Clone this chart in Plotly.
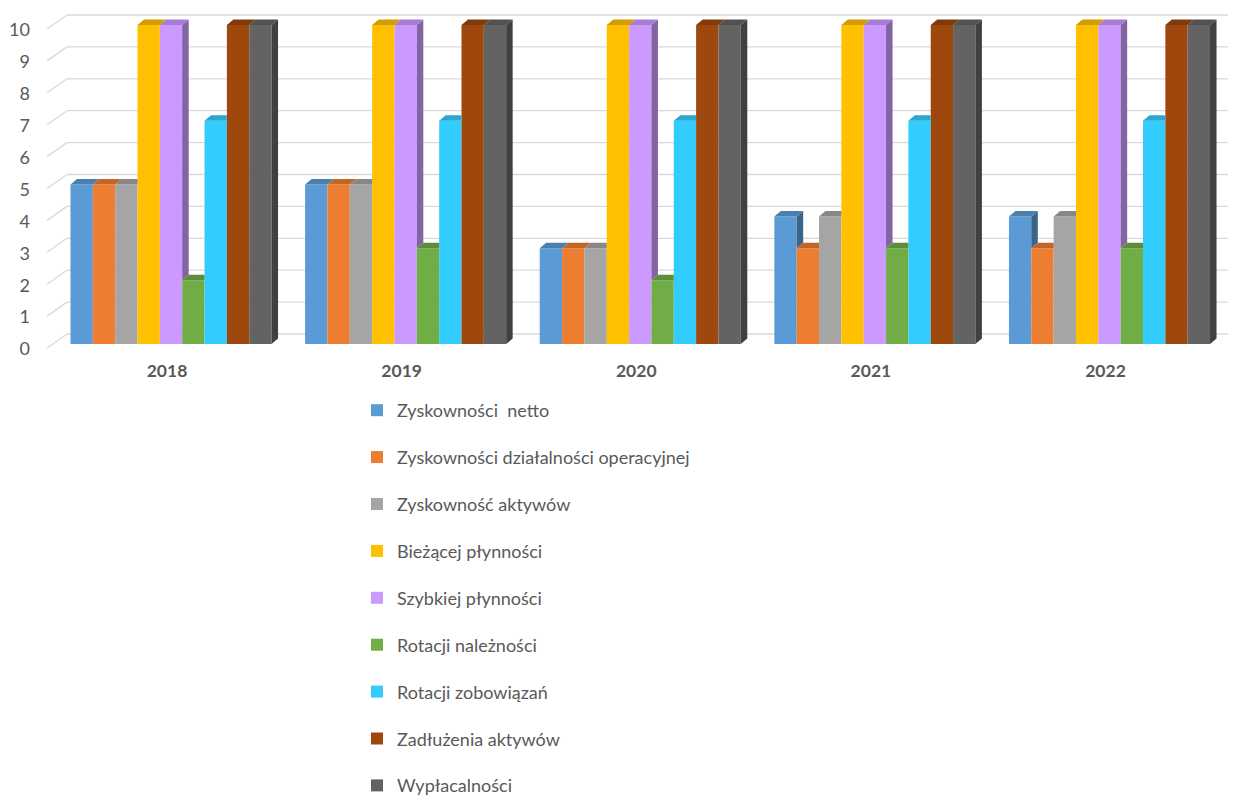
import plotly.graph_objects as go

# ---------------- data ----------------
years = ["2018", "2019", "2020", "2021", "2022"]
series_names = [
    "Zyskowności\u00a0 netto",
    "Zyskowności działalności operacyjnej",
    "Zyskowność aktywów",
    "Bieżącej płynności",
    "Szybkiej płynności",
    "Rotacji należności",
    "Rotacji zobowiązań",
    "Zadłużenia aktywów",
    "Wypłacalności",
]
zysk_netto = [5, 5, 3, 4, 4]
zysk_operacyjnej = [5, 5, 3, 3, 3]
zysk_aktywow = [5, 5, 3, 4, 4]
biezacej_plynnosci = [10, 10, 10, 10, 10]
szybkiej_plynnosci = [10, 10, 10, 10, 10]
rotacji_naleznosci = [2, 3, 2, 3, 3]
rotacji_zobowiazan = [7, 7, 7, 7, 7]
zadluzenia_aktywow = [10, 10, 10, 10, 10]
wyplacalnosci = [10, 10, 10, 10, 10]
y_ticks = list(range(0, 11))

series_values = [zysk_netto, zysk_operacyjnej, zysk_aktywow, biezacej_plynnosci,
                 szybkiej_plynnosci, rotacji_naleznosci, rotacji_zobowiazan,
                 zadluzenia_aktywow, wyplacalnosci]
colors = ["#5B9BD5", "#ED7D31", "#A5A5A5", "#FFC000", "#CC99FF",
          "#70AD47", "#33CCFF", "#9E480E", "#636363"]

# ---------------- layout geometry ----------------
W_PX, H_PX = 1240, 796
ML, MR, MT, MB = 47, 12, 8, 444
X_RANGE = [-0.5286, 4.5051]
Y_RANGE = [-0.2508, 10.533]
plot_w = W_PX - ML - MR
plot_h = H_PX - MT - MB
px_x = plot_w / (X_RANGE[1] - X_RANGE[0])
px_y = plot_h / (Y_RANGE[1] - Y_RANGE[0])

BARGAP = 0.143
group_w = 1 - BARGAP
n_series = len(series_values)
bw = group_w / n_series
DX = 6.5 / px_x   # 3D depth, horizontal (data units)
DY = 5.5 / px_y   # 3D depth, vertical (data units)


def shade(hex_color, f):
    h = hex_color.lstrip("#")
    r, g, b = (int(h[i:i + 2], 16) for i in (0, 2, 4))
    return "rgb(%d,%d,%d)" % (r * f, g * f, b * f)


xs = list(range(len(years)))
fig = go.Figure()

# front faces
for name, vals, col in zip(series_names, series_values, colors):
    fig.add_trace(go.Bar(
        x=xs, y=vals, name=name, marker=dict(color=col, line=dict(width=0)),
        legendgroup=name,
    ))

side_traces, top_traces = [], []
for i, (vals, col) in enumerate(zip(series_values, colors)):
    sx, sy, tx, ty = [], [], [], []
    for k, h in enumerate(vals):
        xl = k - group_w / 2 + i * bw
        xr = xl + bw
        h_next = series_values[i + 1][k] if i + 1 < n_series else None
        # side face
        base = 0 if h_next is None else (h_next if h_next < h else None)
        if base is not None:
            sx += [xr, xr + DX, xr + DX, xr, xr, None]
            sy += [base, base + DY, h + DY, h, base, None]
        # top face
        if h_next is not None and h_next > h:
            tx += [xl, xr, xr, xl + DX, xl, None]
            ty += [h, h, h + DY, h + DY, h, None]
        else:
            tx += [xl, xr, xr + DX, xl + DX, xl, None]
            ty += [h, h, h + DY, h + DY, h, None]
    side_traces.append(go.Scatter(x=sx, y=sy, mode="lines", fill="toself",
                                  fillcolor=shade(col, 0.65), line=dict(width=0),
                                  showlegend=False, hoverinfo="skip"))
    top_traces.append(go.Scatter(x=tx, y=ty, mode="lines", fill="toself",
                                 fillcolor=shade(col, 0.82), line=dict(width=0),
                                 showlegend=False, hoverinfo="skip"))
for t in side_traces + top_traces:
    fig.add_trace(t)

# back-wall gridlines with perspective diagonals
back_dy = 10 / px_y
front_dy = 4 / px_y
wall_x = 20 / plot_w
shapes = []
for v in y_ticks:
    shapes.append(dict(type="line", xref="paper", yref="y", x0=wall_x, x1=1.0,
                       y0=v + back_dy, y1=v + back_dy,
                       line=dict(color="#D9D9D9", width=1.3), layer="below"))
    shapes.append(dict(type="line", xref="paper", yref="y", x0=0, x1=wall_x,
                       y0=v - front_dy, y1=v + back_dy,
                       line=dict(color="#D9D9D9", width=1.3), layer="below"))

fig.update_layout(
    width=W_PX, height=H_PX,
    margin=dict(l=ML, r=MR, t=MT, b=MB, autoexpand=False),
    paper_bgcolor="white", plot_bgcolor="white",
    barmode="group", bargap=BARGAP, bargroupgap=0,
    shapes=shapes,
    font=dict(family="Lato", color="#595959"),
    xaxis=dict(range=X_RANGE, tickvals=xs, ticktext=years, showgrid=False,
               zeroline=False, showline=False, ticks="",
               tickfont=dict(size=17.5, weight="bold", color="#595959"),
               ticklabelstandoff=6, ticklabelshift=-4),
    yaxis=dict(range=Y_RANGE, tickvals=y_ticks, showgrid=False, zeroline=False,
               showline=False, ticks="", tickfont=dict(size=18, color="#595959"),
               ticklabelstandoff=16, ticklabelshift=5),
    legend=dict(xref="container", yref="container", x=357 / W_PX,
                y=1 - 392 / H_PX, xanchor="left", yanchor="top",
                orientation="v", traceorder="grouped", tracegroupgap=20.5,
                maxheight=790,
                font=dict(size=18, color="#595959", family="Lato"),
                itemclick=False, itemdoubleclick=False),
    showlegend=True,
)

fig.write_html("out.html")
